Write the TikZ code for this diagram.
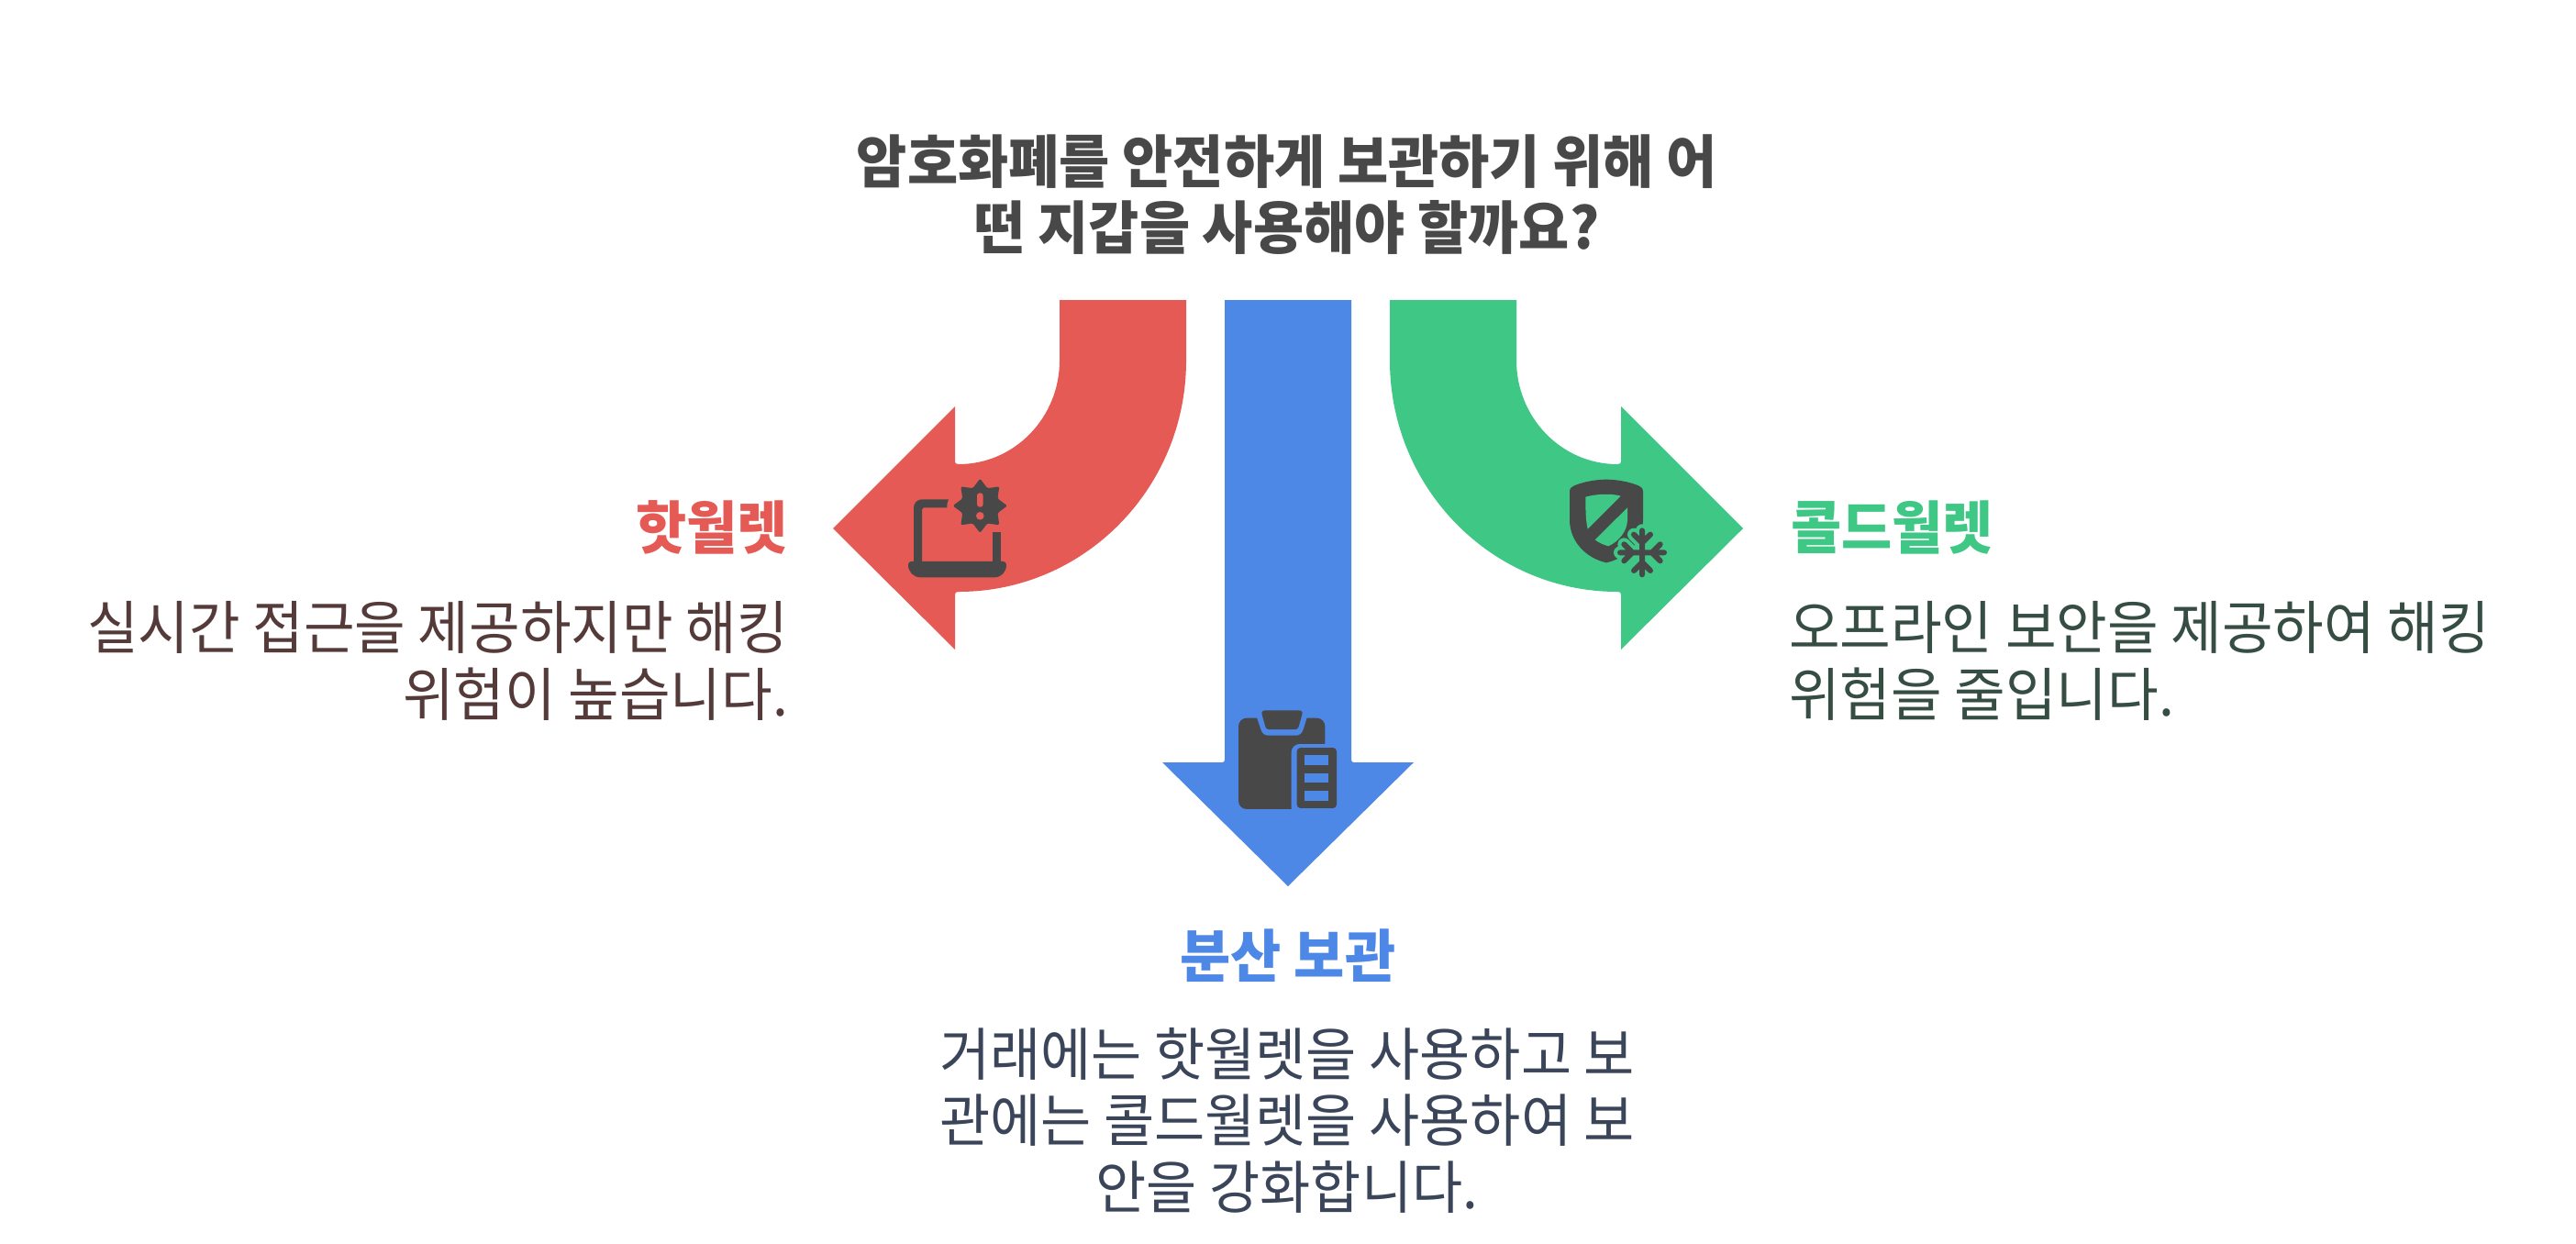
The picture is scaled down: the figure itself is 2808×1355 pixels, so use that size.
\documentclass[tikz,border=0pt]{standalone}
\usepackage{fontspec}
\setmainfont[FakeStretch=0.96]{Noto Sans CJK KR}
\definecolor{cred}{HTML}{E55A54}
\definecolor{cblue}{HTML}{4E88E6}
\definecolor{cgreen}{HTML}{3EC785}
\definecolor{cicon}{HTML}{484848}
\definecolor{ctleft}{HTML}{553A3A}
\definecolor{ctright}{HTML}{354D42}
\definecolor{ctbottom}{HTML}{3B4559}
\tikzset{
  txt/.style={inner sep=0pt,outer sep=0pt,font=\fontsize{63}{72.5}\selectfont},
  txtb/.style={inner sep=0pt,outer sep=0pt,font=\fontsize{62.5}{72.5}\selectfont},
  titletxt/.style={txt,align=center,text=cicon,font=\fontsize{62.5}{71.5}\selectfont\bfseries},
  headtxt/.style={txt,font=\fontsize{62.5}{72}\selectfont\bfseries},
  ic/.style={fill=cicon,draw=none},
  flake/.style={line cap=round,line width=6pt,draw=cicon},
}
\begin{document}
\begin{tikzpicture}[x=1pt,y=-1pt]
\useasboundingbox (0,0) rectangle (2808,1355);
\fill[white] (0,0) rectangle (2808,1355);
% arrows
\fill[cred] (1155,327) -- (1155,393) .. controls (1155,455) and (1106,506) .. (1045,506)
  .. controls (1042,506) and (1041,505) .. (1041,503) -- (1041,443) -- (908,576) -- (1041,708) -- (1041,648)
  .. controls (1041,646) and (1042,645) .. (1045,645)
  .. controls (1182,645) and (1293,532) .. (1293,393) -- (1293,327) -- cycle;
\fill[cgreen] (1653,327) -- (1653,393) .. controls (1653,455) and (1702,506) .. (1763,506)
  .. controls (1766,506) and (1767,505) .. (1767,503) -- (1767,443) -- (1900,576) -- (1767,708) -- (1767,648)
  .. controls (1767,646) and (1766,645) .. (1763,645)
  .. controls (1626,645) and (1515,532) .. (1515,393) -- (1515,327) -- cycle;
\fill[cblue] (1335,327) -- (1335,828) .. controls (1335,830) and (1334,831) .. (1332,831) -- (1267,831) -- (1404,966)
  -- (1541,831) -- (1476,831) .. controls (1474,831) and (1473,830) .. (1473,828) -- (1473,327) -- cycle;
% laptop icon
\begin{scope}[shift={(960,500)},x=0.3333pt,y=-0.3333pt]
  \fill[ic] (222,133) -- (135,133) .. controls (120,133) and (108,145) .. (108,160) -- (108,340) -- (135,340) -- (135,165)
    .. controls (135,162) and (137,160) .. (140,160) -- (217,160) .. controls (216,150) and (218,140) .. (222,133) -- cycle;
  \fill[ic] (365,240) -- (392,240) -- (392,340) -- (365,340) -- cycle;
  \fill[ic] (100,336) -- (400,336) .. controls (407,336) and (411,340) .. (411,347)
    .. controls (411,370) and (395,388) .. (372,388) -- (130,388)
    .. controls (107,388) and (90,370) .. (90,347) .. controls (90,340) and (94,336) .. (100,336) -- cycle;
  \begin{scope}[shift={(325,154)}]
    \fill[ic,rounded corners=1.5pt] (90:89) \foreach \a in {0,45,...,315} { -- (\a+90+22.5:62) -- (\a+90+45:89) } -- cycle;
    \fill[cred,rounded corners=3pt] (-10,-42) rectangle (10,4);
    \fill[cred] (0,33) circle[radius=13];
  \end{scope}
\end{scope}
% clipboard icon
\begin{scope}[shift={(1320,750)},x=0.3333pt,y=-0.3333pt]
  \fill[ic,rounded corners=9pt] (90,98) rectangle (373,396);
  \fill[cblue,rounded corners=9pt] (263,183) rectangle (440,420);
  \fill[cblue] (148,90) -- (163,135) .. controls (167,148) and (175,155) .. (188,155) -- (277,155)
    .. controls (290,155) and (298,148) .. (302,135) -- (316,90) -- cycle;
  \fill[ic] (178,73) -- (287,73) .. controls (296,73) and (301,78) .. (298,87) -- (287,126)
    .. controls (285,132) and (282,135) .. (276,135) -- (189,135) .. controls (183,135) and (180,132) .. (178,126)
    -- (167,87) .. controls (164,78) and (169,73) .. (178,73) -- cycle;
  \fill[ic,rounded corners=4pt] (281,195) rectangle (411,393);
  \fill[cblue] (307,220) rectangle (385,252);
  \fill[cblue] (307,278) rectangle (385,310);
  \fill[cblue] (307,336) rectangle (385,368);
\end{scope}
% shield icon
\begin{scope}[shift={(1690,510)},x=0.3333pt,y=-0.3333pt]
  \fill[ic] (63,78) .. controls (63,66) and (70,62) .. (78,58) .. controls (110,45) and (150,38) .. (183,38)
    .. controls (216,38) and (256,45) .. (288,58) .. controls (296,62) and (303,66) .. (303,78) -- (303,170)
    .. controls (303,240) and (250,295) .. (183,310) .. controls (116,295) and (63,240) .. (63,170) -- cycle;
  \fill[cgreen] (115,95) .. controls (150,85) and (200,83) .. (230,92) -- (122,200) .. controls (115,170) and (115,130) .. (115,95) -- cycle;
  \fill[cgreen] (252,130) -- (252,170) .. controls (252,205) and (225,240) .. (190,256) .. controls (175,252) and (158,245) .. (146,235) -- cycle;
  \foreach \c/\w in {cgreen/14pt,cicon/6pt} {
    \draw[flake,draw=\c,line width=\w] (300,205) -- (300,349) (228,277) -- (372,277)
      (273,218) -- (300,245) -- (327,218)  (273,336) -- (300,309) -- (327,336)
      (241,250) -- (268,277) -- (241,304)  (359,250) -- (332,277) -- (359,304);
  }
\end{scope}
% texts
\node[titletxt,anchor=base] (title) at (1403,271) {암호화폐를 안전하게 보관하기 위해 어\\떤 지갑을 사용해야 할까요?};
\node[headtxt,text=cred,anchor=base east] (hot) at (859,598) {핫월렛};
\node[txt,text=ctleft,align=right,anchor=base east] (hotb) at (859,780) {실시간 접근을 제공하지만 해킹\\위험이 높습니다.};
\node[headtxt,text=cgreen,anchor=base west] (cold) at (1952,598) {콜드월렛};
\node[txt,text=ctright,align=left,anchor=base west] (coldb) at (1950,780) {오프라인 보안을 제공하여 해킹\\위험을 줄입니다.};
\node[headtxt,text=cblue,anchor=base] (dist) at (1404,1065) {분산 보관};
\node[txtb,text=ctbottom,align=center,anchor=base] (distb) at (1403,1317) {거래에는 핫월렛을 사용하고 보\\관에는 콜드월렛을 사용하여 보\\안을 강화합니다.};
\end{tikzpicture}
\end{document}
